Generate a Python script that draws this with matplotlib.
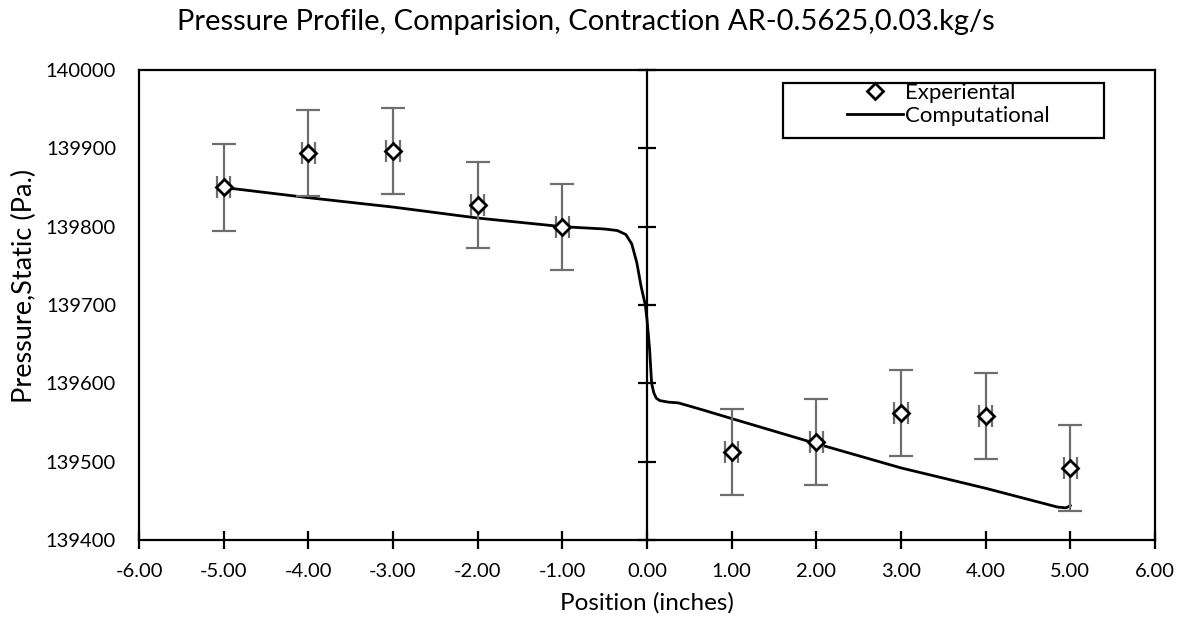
import matplotlib
matplotlib.use('Agg')
from matplotlib import pyplot as plt
from matplotlib.patches import Rectangle
from matplotlib.ticker import FormatStrFormatter

plt.rcParams['font.family'] = ['Lato', 'DejaVu Sans']

# experimental points
exp_x = [-5, -4, -3, -2, -1, 1, 2, 3, 4, 5]
exp_p = [139850, 139894, 139897, 139828, 139800, 139512, 139525, 139562, 139558, 139492]
exp_err = [55, 55, 55, 55, 55, 55, 55, 55, 55, 55]
exp_xerr = [0.08] * 10

# computational profile
cfd_x = [-5, -4, -3, -2, -1, -0.5, -0.35, -0.25, -0.18, -0.12, -0.07, -0.02, 0.0,
         0.03, 0.055, 0.08, 0.11, 0.15, 0.25, 0.37, 0.5, 0.66, 1, 2, 3, 4,
         4.85, 4.95, 5]
cfd_p = [139850, 139837, 139825, 139811, 139800, 139797, 139795, 139790, 139778,
         139754, 139724, 139700, 139682, 139645, 139600, 139588, 139581, 139578,
         139576, 139575, 139571, 139566, 139555, 139523, 139492, 139466,
         139442, 139441, 139444]

fig = plt.figure(figsize=(11.83, 6.30), dpi=100)
ax = fig.add_axes([0.1175, 0.1429, 0.8588, 0.746])

ax.plot(cfd_x, cfd_p, color='black', lw=2, zorder=2, label='Computational')
ax.errorbar(exp_x, exp_p, yerr=exp_err, fmt='none', ecolor='#6e6e6e',
            elinewidth=1.6, capsize=8.5, capthick=1.6, zorder=3)
ax.errorbar(exp_x, exp_p, xerr=exp_xerr, fmt='none', ecolor='#6e6e6e',
            elinewidth=1.6, capsize=8, capthick=1.6, zorder=3)
ax.plot(exp_x, exp_p, linestyle='none', marker='D', markersize=8.5,
        markerfacecolor='white', markeredgecolor='black', markeredgewidth=2,
        zorder=4, label='Experiental')

ax.set_xlim(-6, 6)
ax.set_ylim(139400, 140000)
ax.set_xticks(range(-6, 7))
ax.xaxis.set_major_formatter(FormatStrFormatter('%.2f'))
ax.set_yticks(range(139400, 140001, 100))

# vertical axis crosses at x = 0
ax.spines['left'].set_position(('data', 0))
ax.tick_params(axis='y', direction='inout', length=13, width=1.6,
               labelleft=False, left=True)
ax.tick_params(axis='x', direction='inout', length=13, width=1.6,
               labelsize=14.5, pad=10)
for s in ax.spines.values():
    s.set_linewidth(1.6)
    s.set_color('black')

# labels shown along the frame on the left
sec = ax.secondary_yaxis('left')
sec.set_yticks(range(139400, 140001, 100))
sec.tick_params(length=0, labelsize=14.5, pad=16.5)
sec.spines['left'].set_linewidth(1.6)
sec.set_ylabel('Pressure,Static (Pa.)', fontsize=19.5)
sec.yaxis.set_label_coords(-0.1, 0.54, transform=ax.transAxes)

ax.set_xlabel('Position (inches)', fontsize=17.5, labelpad=9)
fig.text(0.495, 1 - 22 / 630, 'Pressure Profile, Comparision, Contraction AR-0.5625,0.03.kg/s',
         fontsize=21, ha='center', va='center')

# legend with a plain box like the original
ax.add_patch(Rectangle((0.6336, 0.855), 0.3162, 0.1167, transform=ax.transAxes,
                       fill=True, facecolor='white', edgecolor='black', lw=1.6,
                       zorder=5))
handles, labels = ax.get_legend_handles_labels()
leg = ax.legend(handles[::-1], labels[::-1], loc='upper left',
                bbox_to_anchor=(0.697, 0.972), fontsize=16, frameon=False,
                borderpad=0, labelspacing=0.12, handlelength=2.5,
                handletextpad=0.1, borderaxespad=0)
leg.set_zorder(6)

fig.savefig('out.png', dpi=100)
